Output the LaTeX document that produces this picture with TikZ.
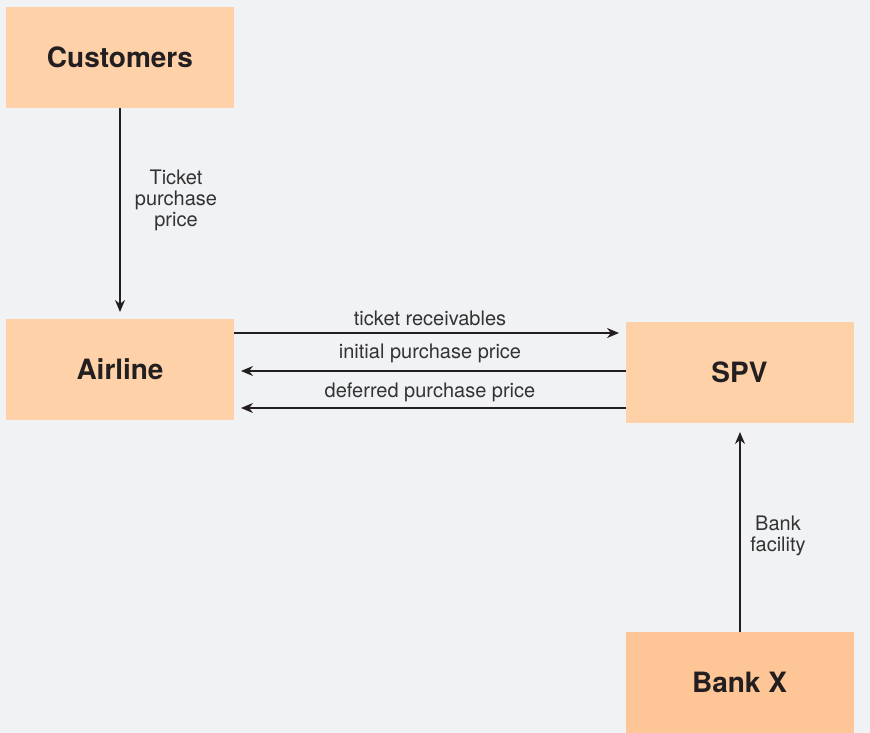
\documentclass[tikz,border=0pt]{standalone}
\usepackage{fontspec}
\setmainfont{TeX Gyre Heros}
\usetikzlibrary{arrows.meta}
\definecolor{bg}{HTML}{F1F2F4}
\definecolor{boxc}{HTML}{FED1A8}
\definecolor{boxd}{HTML}{FEC597}
\definecolor{ink}{HTML}{231F20}
\definecolor{txt}{HTML}{333333}
\tikzset{
  x=1pt,y=-1pt,
  party/.style={fill=boxc, draw=none, minimum width=228pt, minimum height=101pt, inner sep=0pt, font=\fontsize{28}{32}\selectfont\bfseries, text=ink},
  flow/.style={draw=ink, line width=1.2pt, -{Stealth[length=12pt,width=10pt]}},
  lbl/.style={font=\fontsize{20}{21}\selectfont, text=txt, inner sep=0pt, align=center}
}
\begin{document}
\begin{tikzpicture}
\fill[bg] (0,0) rectangle (870,733);
\useasboundingbox (0,0) rectangle (870,733);
\node[party] (cust) at (120,57.5) {Customers};
\node[party] (air) at (120,369.5) {Airline};
\node[party] (spv) at (739.5,372.5) {SPV};
\node[party, fill=boxd] (bank) at (739.5,682.5) {Bank X};

\coordinate (a1) at (120,312);
\draw[flow] (cust.south) -- (a1);
\node[lbl] (l1) at (176,200) {Ticket\\purchase\\price};

\coordinate (r1s) at (234,333);
\coordinate (r1e) at (619,333);
\draw[flow] (r1s) -- (r1e);
\node[lbl] (l2) at (430,318) {ticket receivables};

\coordinate (r2s) at (626,371);
\coordinate (r2e) at (241,371);
\draw[flow] (r2s) -- (r2e);
\node[lbl] (l3) at (430,353) {initial purchase price};

\coordinate (r3s) at (626,408);
\coordinate (r3e) at (241,408);
\draw[flow] (r3s) -- (r3e);
\node[lbl] (l4) at (430,392) {deferred purchase price};

\coordinate (b1) at (740,432);
\draw[flow] (bank.north -| b1) -- (b1);
\node[lbl] (l5) at (778,536) {Bank\\facility};
\end{tikzpicture}
\end{document}
